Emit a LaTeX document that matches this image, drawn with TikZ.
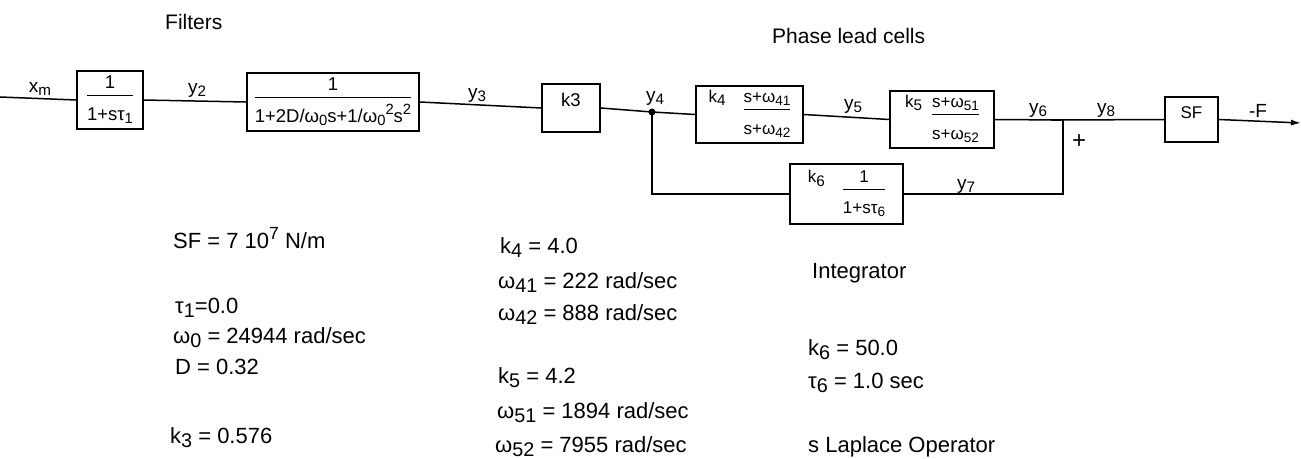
\documentclass[tikz,border=0pt]{standalone}
\usepackage{fontspec}
\setmainfont{Liberation Sans}
\usetikzlibrary{arrows.meta}
\newcommand\dn[2][0.8]{\raisebox{-0.35ex}{\scalebox{#1}{#2}}}
\newcommand\up[2][0.8]{\raisebox{0.75ex}{\scalebox{#1}{#2}}}
\newcommand\fr[3][1.3em]{\begin{tabular}[t]{@{}c@{}}#2\\\hline\rule{0pt}{#1}#3\end{tabular}}
\setlength\arrayrulewidth{1.2pt}
\begin{document}
\begin{tikzpicture}[x=1pt,y=-1pt,
  blk/.style={draw,line width=1.6pt,inner sep=0pt,font=\fontsize{18.5}{22}\selectfont},
  kblk/.style={draw,line width=1.6pt,inner sep=0pt,font=\fontsize{17}{20.5}\selectfont},
  wire/.style={line width=1.5pt},
  lbl/.style={font=\fontsize{19}{23}\selectfont,anchor=base,inner sep=0pt},
  par/.style={font=\fontsize{22}{26}\selectfont,anchor=base west,inner sep=0pt},
  ttl/.style={font=\fontsize{21}{25}\selectfont,anchor=base west,inner sep=0pt}]
\useasboundingbox (0,0) rectangle (1301,458);

% titles
\node[ttl] (tf) at (165,29) {Filters};
\node[ttl] (tp) at (772,43) {Phase lead cells};

% blocks
\node[blk,minimum width=66pt,minimum height=58pt] (b1) at (110,100) {\fr{1}{1+sτ\dn{1}}};
\node[blk,minimum width=172pt,minimum height=58pt] (b2) at (333,102) {\fr{1}{1+2D/ω\dn{0}s+1/ω\dn{0}\up{2}s\up{2}}};
\node[blk,minimum width=58pt,minimum height=48pt,text height=13pt,text depth=17pt] (k3) at (571,108) {k3};
\node[kblk,minimum width=107pt,minimum height=57pt] (k4) at (749.5,114.5) {k\dn[0.9]{4}\hspace{18pt}\fr[1.45em]{s+ω\dn{41}}{s+ω\dn{42}}};
\node[kblk,minimum width=104pt,minimum height=57pt] (k5) at (942,119.5) {k\dn[0.9]{5}\hspace{10pt}\fr[1.45em]{s+ω\dn{51}}{s+ω\dn{52}}};
\node[kblk,minimum width=113pt,minimum height=60pt] (k6) at (846.5,194) {k\dn[0.9]{6}\hspace{18pt}\fr[1.35em]{1}{1+sτ\dn{6}}};
\node[blk,font=\fontsize{17}{21}\selectfont,minimum width=53pt,minimum height=45pt,text height=13pt,text depth=16pt] (sf) at (1191.5,119.5) {SF};

% connection points
\coordinate (in) at (0,97);
\coordinate (dot) at (652,112);
\coordinate (j) at (1063,120);
\coordinate (out) at (1301,123);

% connectors
\draw[wire] (in) -- (b1.west);
\draw[wire] (b1.east) -- (b2.west);
\draw[wire] (b2.east) -- (k3.west);
\draw[wire] (k3.east) -- (dot) -- (k4.west);
\draw[wire] (k4.east) -- (k5.west);
\draw[wire] (k5.east) -- (j) -- (sf.west);
\draw[wire,-{Latex[length=10pt,width=6pt]}] (sf.east) -- (out);
\draw[wire] (dot) |- (k6.west);
\draw[wire] (k6.east) -| (j);
\draw[line width=2.8pt] ([xshift=-12pt]j) -- (j) -- ([yshift=-12pt]j);
\fill (dot) circle (3.5pt);

% signal labels
\node[lbl] (lxm) at (40,92) {x\dn{m}};
\node[lbl] (ly2) at (197,93) {y\dn{2}};
\node[lbl] (ly3) at (477,98) {y\dn{3}};
\node[lbl] (ly4) at (655,101) {y\dn{4}};
\node[lbl] (ly5) at (853,109) {y\dn{5}};
\node[lbl] (ly6) at (1038,113) {y\dn{6}};
\node[lbl] (ly8) at (1106,113) {y\dn{8}};
\node[lbl] (lf) at (1258,117) {-F};
\node[lbl] (ly7) at (966,189) {y\dn{7}};
\node[lbl,anchor=center,font=\fontsize{24}{28}\selectfont] (lplus) at (1079,142) {+};

% parameters, column 1
\node[par] (p1) at (173,248) {SF = 7 10\up{7} N/m};
\node[par] (p2) at (175,313) {τ\dn[0.9]{1}=0.0};
\node[par] (p3) at (173,343) {ω\dn[0.9]{0} = 24944 rad/sec};
\node[par] (p4) at (175,374) {D = 0.32};
\node[par] (p5) at (170,443) {k\dn[0.9]{3} = 0.576};
% column 2
\node[par] (q1) at (500,253) {k\dn[0.9]{4} = 4.0};
\node[par] (q2) at (498,288) {ω\dn[0.9]{41} = 222 rad/sec};
\node[par] (q3) at (498,320) {ω\dn[0.9]{42} = 888 rad/sec};
\node[par] (q4) at (498,383) {k\dn[0.9]{5} = 4.2};
\node[par] (q5) at (497,418) {ω\dn[0.9]{51} = 1894 rad/sec};
\node[par] (q6) at (495,452) {ω\dn[0.9]{52} = 7955 rad/sec};
% column 3
\node[par] (r1) at (812,278) {Integrator};
\node[par] (r2) at (808,355) {k\dn[0.9]{6} = 50.0};
\node[par] (r3) at (808,388) {τ\dn[0.9]{6} = 1.0 sec};
\node[par] (r4) at (808,452) {s Laplace Operator};
\end{tikzpicture}
\end{document}
